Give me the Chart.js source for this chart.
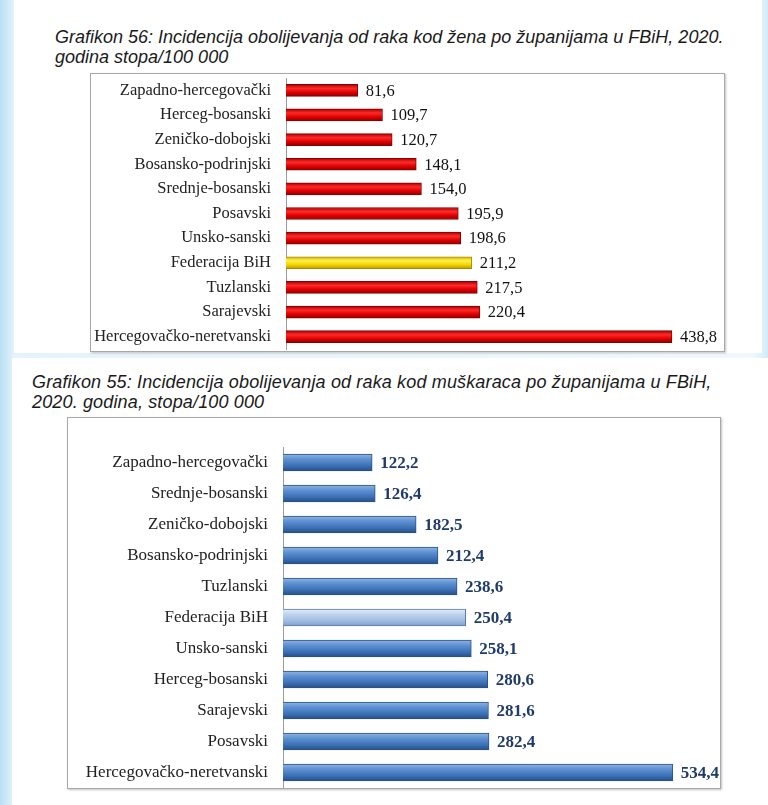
<!DOCTYPE html>
<html>
<head>
<meta charset="utf-8">
<script src="https://cdn.jsdelivr.net/npm/chart.js@4/dist/chart.umd.min.js"></script>
<style>
  html, body { margin: 0; padding: 0; }
  body {
    width: 768px; height: 805px; position: relative; overflow: hidden;
    background: linear-gradient(to right, #b9def3 0px, #e4f3fb 14px, #eef8fd 754px, #d2ebf8 768px);
  }
  .panel { position: absolute; background: #fff; }
  .title {
    position: absolute; font-family: "Liberation Sans", Arial, sans-serif;
    font-style: italic; font-size: 18px; line-height: 20px; color: #1a1a1a; white-space: nowrap;
  }
  .box {
    position: absolute; border: 1px solid #a8a8a8; background: #fff;
    box-shadow: 1px 1px 2px rgba(0,0,0,0.25);
  }
  .box canvas { position: absolute; left: 0; top: 0; }
</style>
</head>
<body>
<div class="panel" style="left:14px; top:0; width:748px; height:353px;"></div>
<div class="panel" style="left:12px; top:358px; width:756px; height:447px;"></div>

<div class="title" style="left:55px; top:27px;">Grafikon 56: Incidencija obolijevanja od raka kod žena po županijama u FBiH, 2020.<br>godina stopa/100 000</div>
<div class="box" style="left:90px; top:73px; width:633px; height:277px;">
  <canvas id="women" width="633" height="277"></canvas>
</div>

<div class="title" style="left:32px; top:372px; letter-spacing:0.15px;">Grafikon 55: Incidencija obolijevanja od raka kod muškaraca po županijama u FBiH,<br>2020. godina, stopa/100 000</div>
<div class="box" style="left:67px; top:417px; width:652px; height:370px;">
  <canvas id="men" width="652" height="370"></canvas>
</div>

<script>
// Grafikon 56 - žene
const womenRegions = ['Zapadno-hercegovački', 'Herceg-bosanski', 'Zeničko-dobojski', 'Bosansko-podrinjski',
  'Srednje-bosanski', 'Posavski', 'Unsko-sanski', 'Federacija BiH', 'Tuzlanski', 'Sarajevski',
  'Hercegovačko-neretvanski'];
const womenRates = [81.6, 109.7, 120.7, 148.1, 154.0, 195.9, 198.6, 211.2, 217.5, 220.4, 438.8];

// Grafikon 55 - muškarci
const menRegions = ['Zapadno-hercegovački', 'Srednje-bosanski', 'Zeničko-dobojski', 'Bosansko-podrinjski',
  'Tuzlanski', 'Federacija BiH', 'Unsko-sanski', 'Herceg-bosanski', 'Sarajevski', 'Posavski',
  'Hercegovačko-neretvanski'];
const menRates = [122.2, 126.4, 182.5, 212.4, 238.6, 250.4, 258.1, 280.6, 281.6, 282.4, 534.4];

const serif = '"Liberation Serif", "Times New Roman", serif';
const fmt = v => v.toFixed(1).replace('.', ',');

// value next to the end of each bar
const valueLabels = {
  id: 'valueLabels',
  afterDatasetsDraw(chart, args, opts) {
    const ctx = chart.ctx;
    const meta = chart.getDatasetMeta(0);
    ctx.save();
    ctx.font = opts.font;
    ctx.fillStyle = opts.color;
    ctx.textBaseline = 'middle';
    ctx.textAlign = 'left';
    meta.data.forEach((bar, i) => {
      ctx.fillText(fmt(chart.data.datasets[0].data[i]), bar.x + 8, bar.y + 1);
    });
    ctx.restore();
  }
};

// vertical shading so the bars look like the 3D office bars
function shaded(stops, flat, thickness) {
  return (c) => {
    const chart = c.chart;
    const y = chart.scales && chart.scales.y;
    if (!chart.chartArea || !y || c.dataIndex === undefined) return flat;
    const mid = y.getPixelForValue(c.dataIndex);
    const g = chart.ctx.createLinearGradient(0, mid - thickness / 2, 0, mid + thickness / 2);
    stops.forEach((s, i) => g.addColorStop(i / (stops.length - 1), s));
    return g;
  };
}

function makeChart(id, labels, values, o) {
  const highlight = labels.indexOf('Federacija BiH');
  return new Chart(document.getElementById(id), {
    type: 'bar',
    data: {
      labels: labels,
      datasets: [{
        data: values,
        backgroundColor: (c) => c.dataIndex === highlight ? o.hiFill(c) : o.fill(c),
        borderColor: (c) => c.dataIndex === highlight ? o.hiBorder : o.border,
        borderWidth: 1,
        borderSkipped: 'left',
        barThickness: o.thickness,
        categoryPercentage: 1,
        barPercentage: 1
      }]
    },
    options: {
      indexAxis: 'y',
      responsive: false,
      animation: false,
      layout: { padding: o.padding },
      plugins: {
        legend: { display: false },
        tooltip: { enabled: false },
        valueLabels: { font: o.valueFont, color: o.valueColor }
      },
      scales: {
        x: { display: false, min: 0, max: o.max },
        y: {
          afterFit(scale) {
            scale.width = o.axisWidth;
            scale.paddingTop = 0;
            scale.paddingBottom = 0;
          },
          grid: { display: false, drawTicks: false },
          border: { display: true, color: '#9c9c9c', width: 1 },
          ticks: { padding: 15, color: '#222', font: { family: serif, size: o.labelSize } }
        }
      }
    },
    plugins: [valueLabels]
  });
}

makeChart('women', womenRegions, womenRates, {
  max: 498, axisWidth: 195, thickness: 12,
  padding: { top: 4, bottom: 2, left: 0, right: 0 },
  labelSize: 16.5,
  fill: shaded(['#a80000', '#ff2a2a', '#e00000', '#8c0000'], '#e00000', 12),
  border: '#8a0000',
  hiFill: shaded(['#d9b800', '#fff04a', '#f2d400', '#b89a00'], '#f2d400', 12),
  hiBorder: '#a88d00',
  valueFont: '16.5px ' + serif, valueColor: '#111'
});

makeChart('men', menRegions, menRates, {
  max: 599, axisWidth: 215, thickness: 17,
  padding: { top: 29, bottom: 0, left: 0, right: 0 },
  labelSize: 17,
  fill: shaded(['#8fb4e3', '#5b8fd0', '#3f73b8', '#244f8a'], '#4a7cc0', 17),
  border: '#2b5282',
  hiFill: shaded(['#e4eefa', '#bcd2ee', '#a3bfe3', '#7f9fcc'], '#b0c8e8', 17),
  hiBorder: '#5a7aa8',
  valueFont: 'bold 17px ' + serif, valueColor: '#1f3b6b'
});
</script>
</body>
</html>
